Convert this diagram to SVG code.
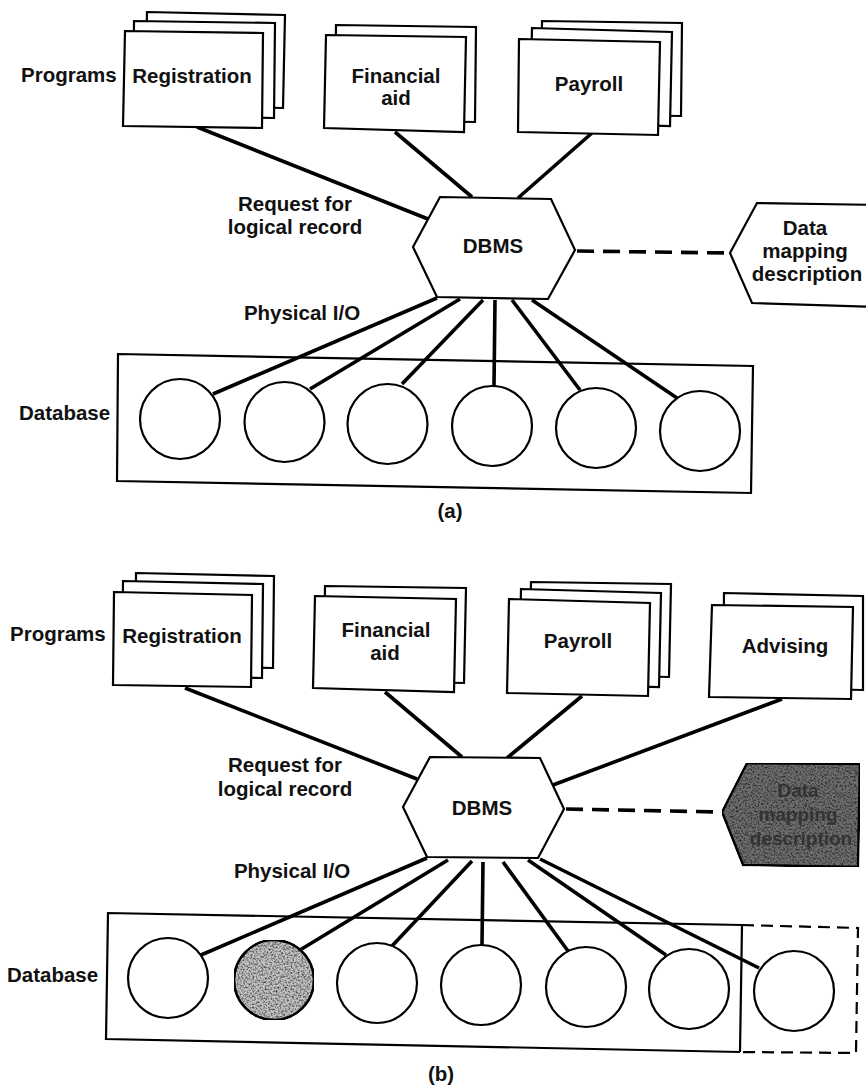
<svg xmlns="http://www.w3.org/2000/svg" width="866" height="1089" viewBox="0 0 866 1089">
  <style>
    .box { fill: #fff; stroke: #000; stroke-width: 2.2; stroke-linejoin: miter; }
    .hex { fill: #fff; stroke: #000; stroke-width: 2.2; }
    .disk { fill: #fff; stroke: #000; stroke-width: 2.2; }
    .frame { fill: none; stroke: #000; stroke-width: 2.2; }
    .frame-dash { fill: none; stroke: #000; stroke-width: 2.2; stroke-dasharray: 12 7; }
    .link { stroke: #000; stroke-width: 3.6; fill: none; stroke-linecap: butt; }
    .link-dash { stroke: #000; stroke-width: 3.6; fill: none; stroke-dasharray: 17 9; }
    text { font-family: "Liberation Sans", Arial, Helvetica, sans-serif; font-weight: bold; font-size: 20.5px; fill: #111; }
    .mid { text-anchor: middle; }
    .shade-text { fill: #333; font-size: 19px; }
  </style>
  <defs>
    <!-- coarse halftone grain for the shaded (new/changed) items -->
    <filter id="grain" x="0" y="0" width="100%" height="100%" color-interpolation-filters="sRGB">
      <feTurbulence type="fractalNoise" baseFrequency="0.55" numOctaves="3" seed="7" result="noise"/>
      <feColorMatrix in="noise" type="matrix" values="1.6 0 0 0 0.05  1.6 0 0 0 0.05  1.6 0 0 0 0.05  0 0 0 0 1" result="grey"/>
      <feBlend in="SourceGraphic" in2="grey" mode="multiply" result="mix"/>
      <feComposite in="mix" in2="SourceGraphic" operator="in"/>
    </filter>
  </defs>

  <!-- ===================== (a) ===================== -->
  <g id="a-connectors">
    <line class="link" x1="197" y1="127" x2="428" y2="219"/>
    <line class="link" x1="395" y1="132" x2="472" y2="197"/>
    <line class="link" x1="592" y1="133" x2="518" y2="198"/>
    <line class="link" x1="437" y1="298" x2="213" y2="394"/>
    <line class="link" x1="460" y1="299" x2="310" y2="389"/>
    <line class="link" x1="483" y1="300" x2="402" y2="384"/>
    <line class="link" x1="495" y1="300" x2="494" y2="386"/>
    <line class="link" x1="512" y1="300" x2="580" y2="390"/>
    <line class="link" x1="532" y1="300" x2="677" y2="398"/>
    <line class="link-dash" x1="577" y1="251" x2="730" y2="253"/>
  </g>

  <text x="21" y="82">Programs</text>

  <g id="a-registration">
    <polygon class="box" points="147,12 285,15 283,108 145,105"/>
    <polygon class="box" points="134,21 275,23 274,118 133,116"/>
    <polygon class="box" points="125,31 263,33 262,128 123,126"/>
    <text class="mid" x="192" y="83">Registration</text>
  </g>

  <g id="a-financial">
    <polygon class="box" points="336,25 476,27 475,122 335,120"/>
    <polygon class="box" points="326,35 466,37 464,132 324,128"/>
    <text class="mid" x="396" y="83">Financial</text>
    <text class="mid" x="396" y="105">aid</text>
  </g>

  <g id="a-payroll">
    <polygon class="box" points="542,21 682,23 681,116 541,114"/>
    <polygon class="box" points="532,28 672,32 670,126 530,122"/>
    <polygon class="box" points="519,39 660,42 658,135 518,132"/>
    <text class="mid" x="589" y="91">Payroll</text>
  </g>

  <text class="mid" x="295" y="211">Request for</text>
  <text class="mid" x="295" y="234">logical record</text>
  <text class="mid" x="302" y="320">Physical I/O</text>

  <g id="a-dbms">
    <polygon class="hex" points="413,247 440,197 551,199 575,250 548,299 437,297"/>
    <text class="mid" x="493" y="253">DBMS</text>
  </g>

  <g id="a-mapping">
    <polygon class="hex" points="730,253 757,203 880,205 880,307 752,303"/>
    <text class="mid" x="805" y="235">Data</text>
    <text class="mid" x="805" y="258">mapping</text>
    <text class="mid" x="807" y="281">description</text>
  </g>

  <g id="a-database">
    <text x="19" y="420">Database</text>
    <polygon class="frame" points="118,354 753,366 751,493 117,481"/>
    <circle class="disk" cx="180" cy="419" r="40"/>
    <circle class="disk" cx="284.5" cy="422" r="40"/>
    <circle class="disk" cx="387.5" cy="424" r="40"/>
    <circle class="disk" cx="492" cy="426" r="40"/>
    <circle class="disk" cx="596" cy="428" r="40"/>
    <circle class="disk" cx="700" cy="431" r="40"/>
  </g>

  <text class="mid" x="450" y="518">(a)</text>

  <!-- ===================== (b) ===================== -->
  <g id="b-connectors">
    <line class="link" x1="185" y1="688" x2="417" y2="779"/>
    <line class="link" x1="385" y1="692" x2="462" y2="757"/>
    <line class="link" x1="582" y1="696" x2="507" y2="758"/>
    <line class="link" x1="782" y1="699" x2="553" y2="785"/>
    <line class="link" x1="427" y1="858" x2="201" y2="955"/>
    <line class="link" x1="448" y1="860" x2="300" y2="950"/>
    <line class="link" x1="472" y1="861" x2="392" y2="946"/>
    <line class="link" x1="483" y1="862" x2="482" y2="945"/>
    <line class="link" x1="503" y1="862" x2="568" y2="951"/>
    <line class="link" x1="528" y1="860" x2="666" y2="955"/>
    <line class="link" x1="540" y1="859" x2="759" y2="968"/>
    <line class="link-dash" x1="566" y1="809" x2="722" y2="812"/>
  </g>

  <text x="10" y="641">Programs</text>

  <g id="b-registration">
    <polygon class="box" points="136,573 274,576 273,668 135,665"/>
    <polygon class="box" points="123,581 263,584 262,678 122,675"/>
    <polygon class="box" points="114,592 252,595 251,687 113,685"/>
    <text class="mid" x="182" y="643">Registration</text>
  </g>

  <g id="b-financial">
    <polygon class="box" points="325,586 466,588 464,683 324,680"/>
    <polygon class="box" points="315,596 456,599 454,692 313,688"/>
    <text class="mid" x="386" y="637">Financial</text>
    <text class="mid" x="385" y="660">aid</text>
  </g>

  <g id="b-payroll">
    <polygon class="box" points="531,582 671,584 669,677 529,674"/>
    <polygon class="box" points="521,589 661,593 659,687 519,683"/>
    <polygon class="box" points="509,599 650,603 648,696 507,693"/>
    <text class="mid" x="578" y="648">Payroll</text>
  </g>

  <g id="b-advising">
    <polygon class="box" points="724,593 863,596 863,690 723,687"/>
    <polygon class="box" points="712,605 853,607 851,699 709,697"/>
    <text class="mid" x="785" y="653">Advising</text>
  </g>

  <text class="mid" x="285" y="772">Request for</text>
  <text class="mid" x="285" y="796">logical record</text>
  <text class="mid" x="292" y="878">Physical I/O</text>

  <g id="b-dbms">
    <polygon class="hex" points="403,807 430,757 540,758 564,809 538,858 427,857"/>
    <text class="mid" x="482" y="815">DBMS</text>
  </g>

  <g id="b-mapping">
    <polygon points="722,812 747,763 860,764 858,867 743,865" fill="#707070" stroke="#000" stroke-width="2.5" filter="url(#grain)"/>
    <text class="mid shade-text" x="798" y="797">Data</text>
    <text class="mid shade-text" x="798" y="821">mapping</text>
    <text class="mid shade-text" x="801" y="845">description</text>
  </g>

  <g id="b-database">
    <text x="7" y="982">Database</text>
    <polyline class="frame" points="742,925 108,913 106,1039 740,1052"/>
    <line class="frame" x1="742" y1="925" x2="740" y2="1052"/>
    <polyline class="frame-dash" points="742,925 858,928 856,1053 740,1052"/>
    <circle class="disk" cx="168" cy="978" r="40"/>
    <circle cx="274" cy="980" r="40" fill="#c4c4c4" stroke="#000" stroke-width="2.6" filter="url(#grain)"/>
    <circle class="disk" cx="377" cy="983" r="40"/>
    <circle class="disk" cx="481" cy="985" r="40"/>
    <circle class="disk" cx="586" cy="987" r="40"/>
    <circle class="disk" cx="689" cy="989" r="40"/>
    <circle class="disk" cx="794" cy="991" r="40"/>
  </g>

  <text class="mid" x="441" y="1081">(b)</text>
</svg>
